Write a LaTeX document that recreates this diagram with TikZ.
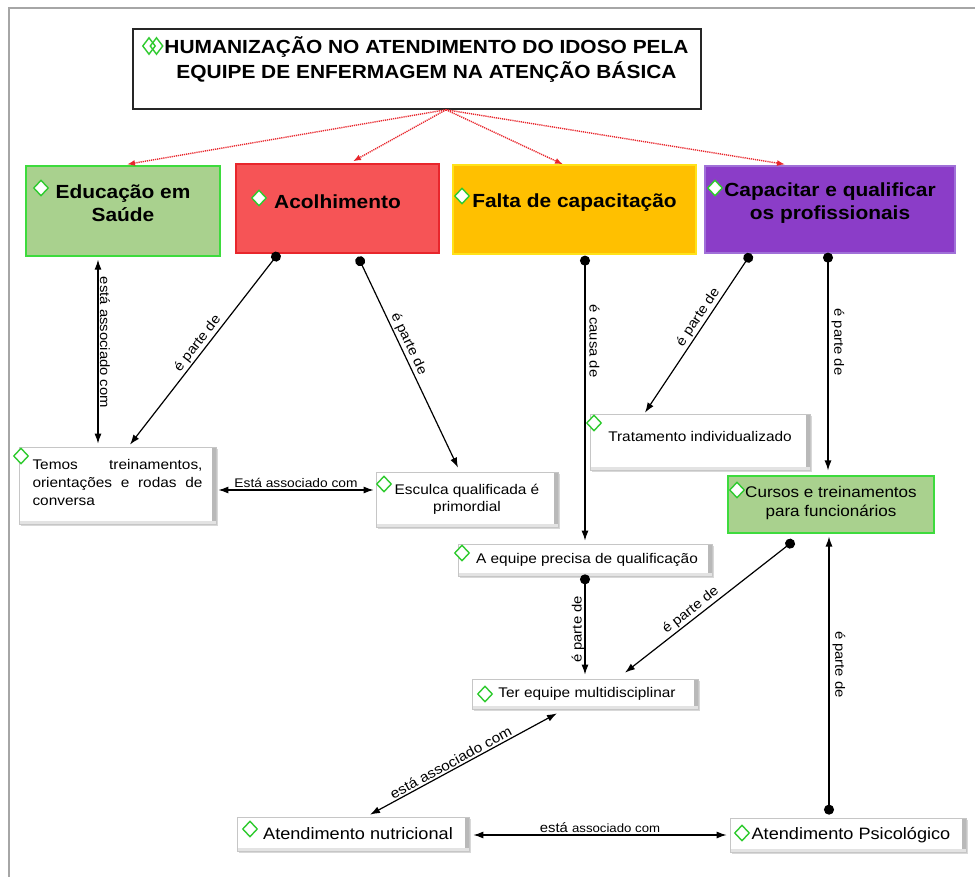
\documentclass[tikz,border=0pt]{standalone}
\usepackage{fontspec}
\setmainfont{Liberation Sans}[FakeStretch=1.1]
\usetikzlibrary{arrows.meta,shapes.geometric,shadows}
\definecolor{gfill}{HTML}{A9D18E}
\definecolor{gedge}{HTML}{3DDB3D}
\definecolor{rfill}{HTML}{F65456}
\definecolor{redge}{HTML}{E8262C}
\definecolor{yfill}{HTML}{FFC000}
\definecolor{yedge}{HTML}{FFE21A}
\definecolor{pfill}{HTML}{8B3DC8}
\definecolor{pedge}{HTML}{A070D8}
\definecolor{dgreen}{HTML}{2FCB2F}
\definecolor{arrred}{HTML}{E8262C}
\tikzset{
  catbox/.style={line width=1.3pt, align=center, inner sep=0pt,
    font=\fontsize{19}{23}\selectfont\bfseries},
  wbox/.style={draw=gray!45, fill=white, line width=0.7pt, inner sep=2pt, align=center,
    font=\fontsize{14}{17}\selectfont,
    drop shadow={shadow xshift=1.5pt,shadow yshift=-1.5pt,fill=gray!60,opacity=0.5},
    path picture={
      \fill[gray!55] ([xshift=-4pt]path picture bounding box.north east) rectangle (path picture bounding box.south east);
      \fill[gray!22] (path picture bounding box.south west) rectangle ([yshift=3pt]path picture bounding box.south east);
    }},
  dia/.style={diamond, draw=dgreen, fill=white, line width=1.4pt, minimum width=15pt, minimum height=16pt, inner sep=0pt},
  con/.style={line width=1.2pt, black},
  dotarr/.style={con, {Circle[length=10pt]}-{Latex[length=10pt,width=7pt]}},
  dblarr/.style={con, {Latex[length=10pt,width=7pt]}-{Latex[length=10pt,width=7pt]}},
  redarr/.style={arrred, line width=1.4pt, dash pattern=on 1.2pt off 0.9pt, -{Latex[length=8pt,width=6pt]}},
  lbl/.style={font=\fontsize{13.5}{15}\selectfont, inner sep=1.5pt},
}
\begin{document}
\begin{tikzpicture}[x=1pt,y=-1pt]
\useasboundingbox (0,0) rectangle (975,877);
\draw[gray!70, line width=1.5pt] (975,8) -- (9,8) -- (9,877);

% title
\node[draw=black!85, line width=1.5pt, fill=white, minimum width=568pt, minimum height=80pt] (title) at (417,69) {};
\node[font=\fontsize{19}{25}\selectfont\bfseries, align=center] (titletxt) at (426.5,59.5)
  {HUMANIZAÇÃO NO ATENDIMENTO DO IDOSO PELA\\EQUIPE DE ENFERMAGEM NA ATENÇÃO BÁSICA};
\node[dia, minimum width=13pt, minimum height=17pt] (td1) at (149,46) {};
\node[dia, minimum width=13pt, minimum height=17pt, fill=none] (td2) at (156.5,46) {};

% category boxes
\node[catbox, fill=gfill, draw=gedge, minimum width=194pt, minimum height=90pt, text depth=15pt] (edu) at (123,211) {Educação em\\Saúde};
\node[catbox, fill=rfill, draw=redge, minimum width=203pt, minimum height=89pt, text depth=13pt] (acol) at (337.5,208.5) {Acolhimento};
\node[catbox, fill=yfill, draw=yedge, minimum width=243pt, minimum height=89pt, text depth=17pt] (falta) at (574.5,209.5) {Falta de capacitação};
\node[catbox, fill=pfill, draw=pedge, minimum width=250pt, minimum height=87pt, text depth=16pt] (cap) at (830,209.5) {Capacitar e qualificar\\os profissionais};

% lower boxes
\node[wbox, minimum width=197pt, minimum height=77pt, align=left, text depth=7pt,
  font=\fontsize{14}{18}\selectfont] (temos) at (117.5,485.5)
  {\makebox[170pt][s]{Temos treinamentos,}\\\makebox[170pt][s]{orientações e rodas de}\\\makebox[170pt][l]{conversa}};
\node[wbox, minimum width=182pt, minimum height=55pt] (esc) at (467,499.5) {Esculca qualificada é\\primordial};
\node[wbox, minimum width=220pt, minimum height=56pt, text depth=12pt] (trat) at (700,442) {Tratamento individualizado};
\node[catbox, fill=gfill, draw=gedge, line width=1.1pt, minimum width=206pt, minimum height=57pt, text depth=7pt,
  font=\fontsize{15.5}{19}\selectfont] (cursos) at (831,504.5) {Cursos e treinamentos\\para funcionários};
\node[wbox, minimum width=254pt, minimum height=32pt] (aeq) at (585,560) {\hspace*{4pt}A equipe precisa de qualificação};
\node[wbox, minimum width=226pt, minimum height=30pt] (ter) at (585,694) {\hspace*{4pt}Ter equipe multidisciplinar};
\node[wbox, minimum width=232pt, minimum height=34pt, font=\fontsize{16.5}{19}\selectfont] (nutri) at (353,834) {\hspace*{10pt}Atendimento nutricional};
\node[wbox, minimum width=236pt, minimum height=34pt, font=\fontsize{16.5}{19}\selectfont] (psico) at (848,835) {\hspace*{6pt}Atendimento Psicológico};

% diamonds
\node[dia] (d1) at (41,188) {};
\node[dia] (d2) at (259,198) {};
\node[dia] (d3) at (462,196) {};
\node[dia] (d4) at (715,188) {};
\node[dia] (d5) at (21,456) {};
\node[dia] (d6) at (384,484) {};
\node[dia] (d7) at (594,423) {};
\node[dia] (d8) at (737,490) {};
\node[dia] (d9) at (462,553) {};
\node[dia] (d10) at (485,694) {};
\node[dia] (d11) at (250,829) {};
\node[dia] (d12) at (742,833) {};

% red dotted arrows
\draw[redarr] ([xshift=29pt]title.south) -- ([xshift=4pt,yshift=1pt]edu.north);
\draw[redarr] ([xshift=29pt]title.south) -- ([xshift=15.5pt,yshift=2pt]acol.north);
\draw[redarr] ([xshift=29pt]title.south) -- ([xshift=-11.5pt]falta.north);
\draw[redarr] ([xshift=29pt]title.south) -- ([xshift=-45pt,yshift=1pt]cap.north);

% connectors
\draw[dblarr] ([xshift=-25pt,yshift=-3pt]edu.south) -- node[lbl, pos=0.45, rotate=-90, anchor=south] (l1) {está associado com} ([xshift=-19.5pt,yshift=3pt]temos.north);
\draw[dotarr] ([xshift=-58.5pt,yshift=1pt]acol.south) -- node[lbl, pos=0.5, sloped, above] (l2) {é parte de} ([xshift=12.5pt,yshift=2pt]temos.north);
\draw[dotarr] ([xshift=20.5pt,yshift=-3pt]acol.south) -- node[lbl, pos=0.43, sloped, above] (l3) {é parte de} ([xshift=-9pt,yshift=4pt]esc.north);
\draw[dblarr] ([xshift=2pt,yshift=-4.5pt]temos.east) -- node[lbl, midway, above, font=\fontsize{12.5}{14}\selectfont] (l4) {Está associado com} ([xshift=-2pt,yshift=9.5pt]esc.west);
\draw[dotarr] ([xshift=10.5pt,yshift=-1pt]falta.south) -- node[lbl, pos=0.3, rotate=-90, anchor=south, inner sep=4pt] (l5) {é causa de} ([yshift=3pt]aeq.north);
\draw[dotarr] ([xshift=-79pt]cap.south) -- node[lbl, pos=0.43, sloped, above] (l6) {é parte de} ([xshift=-55pt,yshift=1pt]trat.north);
\draw[dotarr] ([xshift=-2pt,yshift=1pt]cap.south) -- node[lbl, pos=0.41, rotate=-90, anchor=south, inner sep=3pt] (l7) {é parte de} ([xshift=-3pt,yshift=5pt]cursos.north);
\draw[dotarr] ([yshift=2pt]aeq.south) -- node[lbl, pos=0.55, rotate=90, anchor=south, inner sep=0pt] (l8) {é parte de} ([yshift=4pt]ter.north);
\draw[dotarr] ([xshift=-37pt,yshift=-7pt]cursos.south) -- node[lbl, pos=0.58, sloped, above] (l9) {é parte de} ([xshift=40pt,yshift=6pt]ter.north);
\draw[dblarr] ([xshift=-28pt,yshift=-4pt]ter.south) -- node[lbl, pos=0.55, sloped, above, font=\fontsize{14}{16}\selectfont] (l10) {está associado com} ([xshift=17pt,yshift=2pt]nutri.north);
\draw[dblarr] ([xshift=4pt,yshift=-1pt]nutri.east) -- node[lbl, midway, above, font=\fontsize{13.5}{15}\selectfont] (l11) {está {\fontsize{12}{14}\selectfont associado com}} ([xshift=-3pt]psico.west);
\draw[dotarr] ([xshift=-19pt,yshift=3pt]psico.north) -- node[lbl, pos=0.54, rotate=-90, anchor=south, inner sep=3pt] (l12) {é parte de} ([xshift=-2pt,yshift=-3pt]cursos.south);
\end{tikzpicture}
\end{document}
